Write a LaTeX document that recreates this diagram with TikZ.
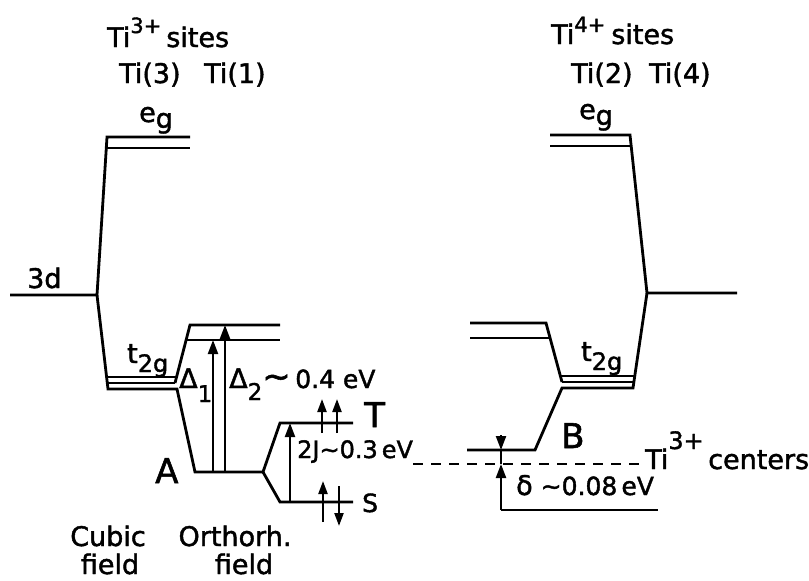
\documentclass[tikz,border=0pt]{standalone}
\usepackage{fontspec}
\setmainfont{DejaVu Sans}[UprightFeatures={FakeBold=1.6}]
\usetikzlibrary{arrows.meta}
\newcommand\fsz[1]{\fontsize{#1}{#1}\selectfont}
\begin{document}
\begin{tikzpicture}[x=1pt,y=-1pt,
  lvl/.style={line width=2.8pt, line join=miter},
  thin3/.style={line width=2.2pt},
  arr/.style={line width=2.2pt, -{Triangle[length=14pt,width=10pt]}},
  spinarr/.style={line width=2.2pt, -{Triangle[length=13pt,width=9pt]}},
  txt/.style={inner sep=0pt, anchor=base west, font=\fsz{27}},
  ctxt/.style={inner sep=0pt, anchor=base, font=\fsz{27}},
  bigtxt/.style={inner sep=0pt, anchor=base west, font=\fsz{34}}]
\useasboundingbox (0,0) rectangle (809,581);

% ---------- left side coordinates ----------
\coordinate (d3L) at (10,295);
\coordinate (d3Lj) at (97,295);
\coordinate (egLa) at (107,137); \coordinate (egLa2) at (190,137);
\coordinate (egLb) at (106,148); \coordinate (egLb2) at (190,148);
\coordinate (tLa) at (107,377); \coordinate (tLa2) at (176,377);
\coordinate (tLb) at (107.5,383); \coordinate (tLb2) at (175,383);
\coordinate (tLc) at (108,389); \coordinate (tLc2) at (177,389);
\coordinate (oTop) at (190,325); \coordinate (oTop2) at (280,325);
\coordinate (oMid) at (186,340); \coordinate (oMid2) at (280,340);
\coordinate (A1) at (195,472); \coordinate (A2) at (263,472);
\coordinate (T1) at (280,423); \coordinate (T2) at (353,423);
\coordinate (S1) at (280,502); \coordinate (S2) at (353,502);

\draw[lvl] (d3L) -- (d3Lj) -- (egLa) -- (egLa2);
\draw[lvl] (egLb) -- (egLb2);
\draw[lvl] (d3Lj) -- (tLc) -- (tLc2) -- (A1) -- (A2) -- (T1) -- (T2);
\draw[lvl] (A2) -- (S1) -- (S2);
\draw[thin3] (tLa) -- (tLa2);
\draw[thin3] (tLb) -- (tLb2);
\draw[lvl] (tLb2) -- (oTop) -- (oTop2);
\draw[lvl] (oMid) -- (oMid2);

% transitions
\coordinate (d1b) at (213,472); \coordinate (d1t) at (213,340);
\coordinate (d2b) at (225,472); \coordinate (d2t) at (225,325);
\coordinate (jb) at (290,502); \coordinate (jt) at (290,423);
\draw[arr] (d1b) -- (d1t);
\draw[arr] (d2b) -- (d2t);
\draw[arr] (jb) -- (jt);

% spins
\coordinate (sT1b) at (322,433); \coordinate (sT1t) at (322,399);
\coordinate (sT2b) at (337,433); \coordinate (sT2t) at (337,399);
\coordinate (sS1b) at (323,522); \coordinate (sS1t) at (323,481);
\coordinate (sS2t) at (339,486); \coordinate (sS2b) at (339,526);
\draw[spinarr] (sT1b) -- (sT1t);
\draw[spinarr] (sT2b) -- (sT2t);
\draw[spinarr] (sS1b) -- (sS1t);
\draw[spinarr] (sS2t) -- (sS2b);

% ---------- right side coordinates ----------
\coordinate (d3R) at (737,293); \coordinate (d3Rj) at (647,293);
\coordinate (egRa) at (630,135); \coordinate (egRa2) at (550,135);
\coordinate (egRb) at (631,146); \coordinate (egRb2) at (550,146);
\coordinate (uR1) at (470,323); \coordinate (uR1j) at (546,323);
\coordinate (uR2) at (470,338); \coordinate (uR2j) at (550,338);
\coordinate (tRaL) at (561,376); \coordinate (tRaR) at (634.5,376);
\coordinate (tRbL) at (562,382); \coordinate (tRbR) at (633.7,382);
\coordinate (tRcL) at (562,388); \coordinate (tRcR) at (633,388);
\coordinate (Bj) at (535,450); \coordinate (BL) at (467,450);

\draw[lvl] (d3R) -- (d3Rj) -- (egRa) -- (egRa2);
\draw[lvl] (egRb) -- (egRb2);
\draw[lvl] (uR1) -- (uR1j) -- (tRbL);
\draw[thin3] (tRbL) -- (tRbR);
\draw[lvl] (uR2) -- (uR2j);
\draw[thin3] (tRaL) -- (tRaR);
\draw[lvl] (d3Rj) -- (tRcR) -- (tRcL) -- (Bj) -- (BL);

% delta
\coordinate (dtop) at (501,435); \coordinate (dB) at (501,450);
\coordinate (dD) at (501,464); \coordinate (dbot) at (501,510);
\coordinate (dend) at (658,510);
\draw[line width=2.2pt, -{Triangle[length=14pt,width=10pt]}] (dtop) -- (dB);
\draw[line width=2.2pt] (dB) -- (dD);
\draw[line width=2.2pt, -{Triangle[length=14pt,width=10pt]}] (dbot) -- (dD);
\draw[lvl] (dbot) -- (dend);

% dashed
\coordinate (dashL) at (413,464); \coordinate (dashR) at (640,464);
\draw[line width=2.2pt, dash pattern=on 10pt off 8pt] (dashL) -- (dashR);

% ---------- texts ----------
\node[txt] (tiA) at (107,47) {Ti\raisebox{14pt}{\fsz{21}3+}\hspace{5pt}sites};
\node[txt] (ti3) at (119,83) {Ti(3)};
\node[txt] (ti1) at (204,83) {Ti(1)};
\node[txt] (egL) at (139,122) {e\raisebox{-6pt}{g}};
\node[txt] (tiB) at (551,44) {Ti\raisebox{12pt}{\fsz{21}4+}\hspace{6pt}sites};
\node[txt] (ti2) at (571,83) {Ti(2)};
\node[txt] (ti4) at (649,83) {Ti(4)};
\node[txt] (egR) at (579,119) {e\raisebox{-6pt}{g}};
\node[txt] (d3) at (27,288) {3d};
\node[txt] (t2gL) at (127,363) {t\raisebox{-9pt}{\fsz{24}2g}};
\node[txt] (t2gR) at (581,361) {t\raisebox{-9pt}{\fsz{24}2g}};
\node[txt] (D1) at (179,388) {Δ\raisebox{-14pt}{\fsz{23}1}};
\node[txt] (D2) at (229,388) {Δ\raisebox{-12pt}{\fsz{23}2}{\fsz{34}∼}\,{\fsz{25}0.4 eV}};
\node[bigtxt] (A) at (155,483) {A};
\node[bigtxt] (T) at (364,427) {T};
\node[txt, font=\fsz{25}] (S) at (362,512) {S};
\node[bigtxt] (B) at (561,448) {B};
\node[txt, font=\fsz{24}] (J) at (297,458) {2J∼0.3\,eV};
\node[txt] (cent) at (645,469) {Ti\raisebox{20pt}{\fsz{24}3+}\,centers};
\node[txt] (delta) at (516,495) {δ\hspace{8pt}{\fsz{25}∼0.08\,eV}};
\node[ctxt] (cub) at (108,546) {Cubic};
\node[ctxt] (cubf) at (110,574) {field};
\node[ctxt] (ort) at (235,546) {Orthorh.};
\node[ctxt] (ortf) at (244,574) {field};
\end{tikzpicture}
\end{document}
